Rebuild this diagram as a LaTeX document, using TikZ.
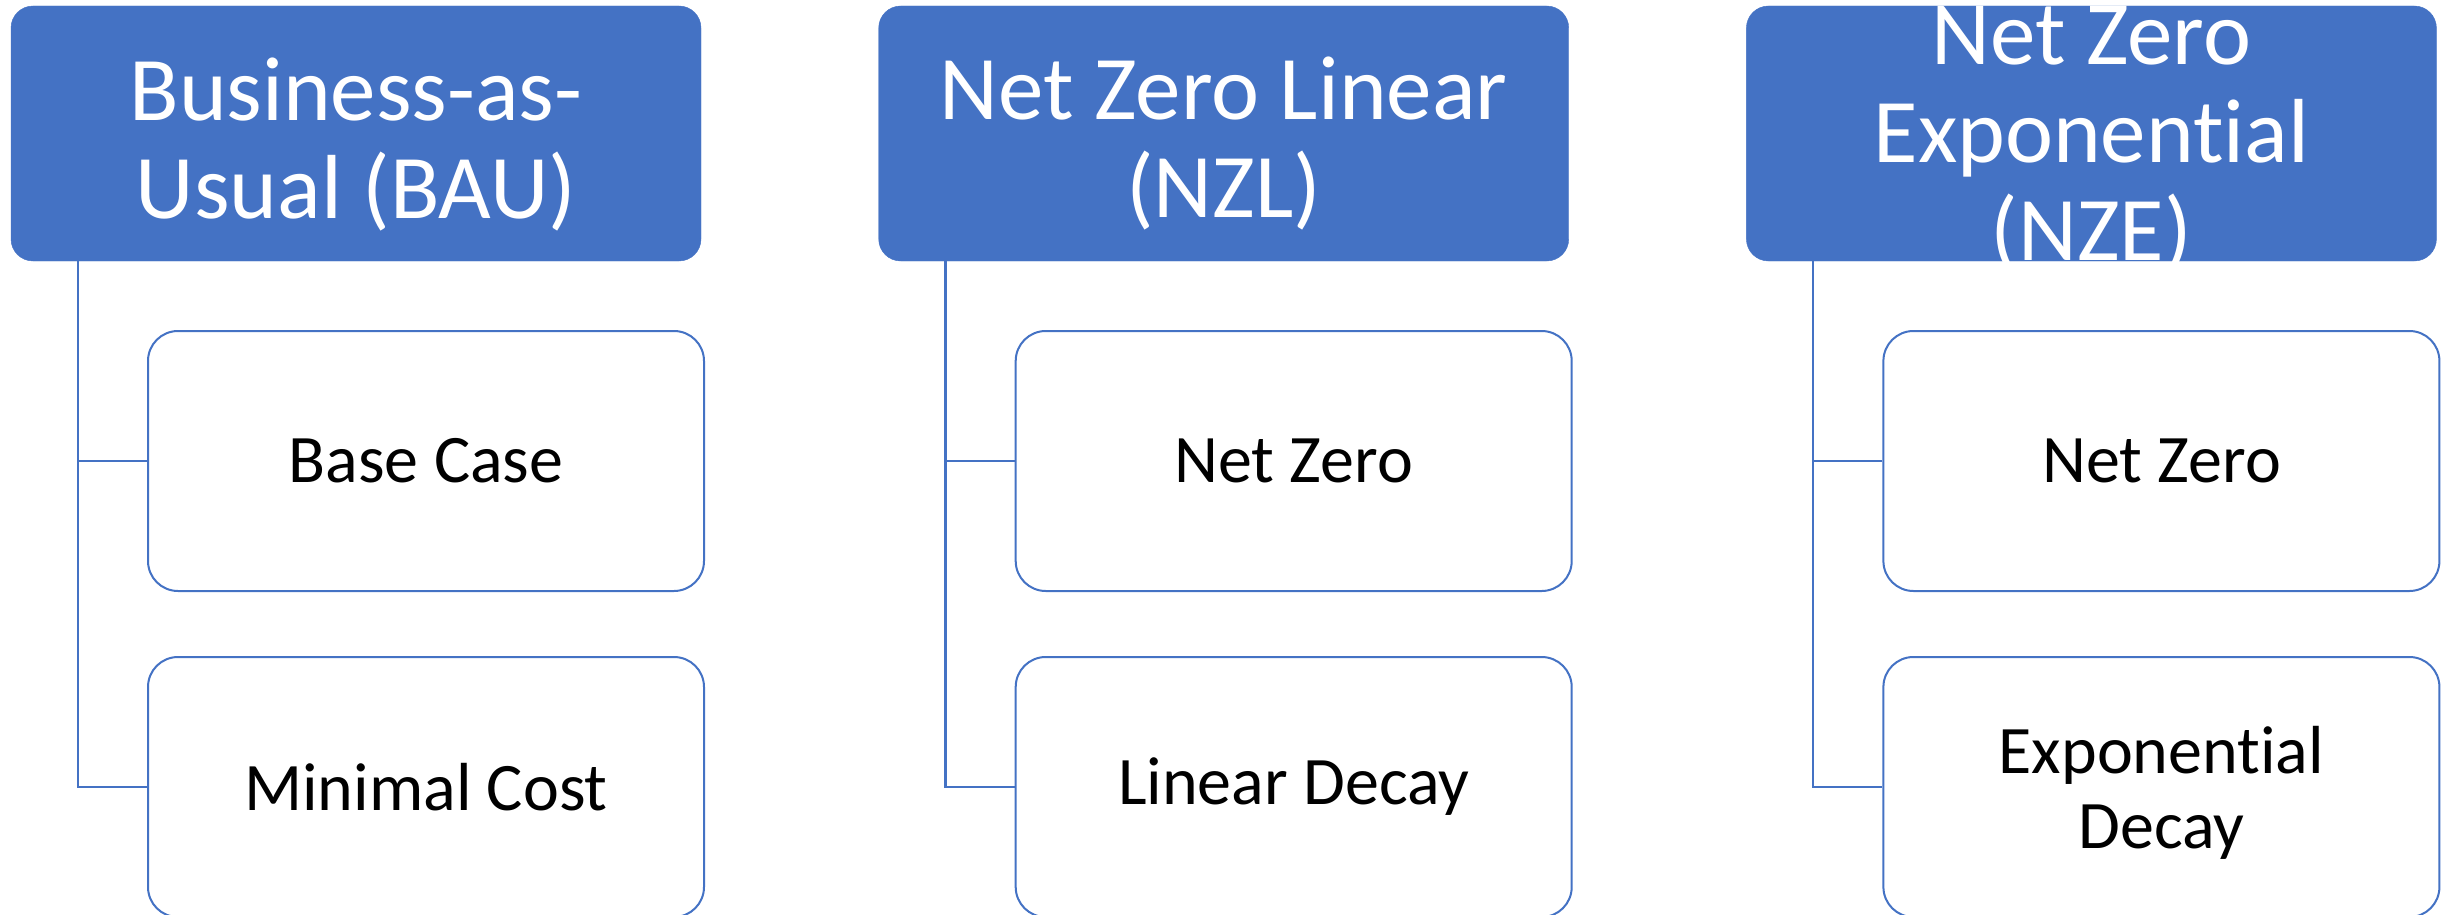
\documentclass[tikz,border=0pt]{standalone}
\usepackage{fontspec}
\setmainfont[Ligatures={NoCommon}]{Carlito}
\definecolor{accent}{HTML}{4472C4}
\begin{document}
\begin{tikzpicture}[x=1pt,y=-1pt,
  header/.style={fill=accent, draw=accent, rounded corners=22pt, minimum width=690pt, minimum height=255pt, inner sep=0pt},
  htext/.style={text=white, align=center, font=\fontsize{91}{98}\selectfont, inner sep=0pt},
  child/.style={fill=white, draw=accent, line width=2pt, rounded corners=30pt, minimum width=556pt, minimum height=260pt, align=center, font=\fontsize{68}{75}\selectfont, inner sep=0pt},
  ctext/.style={align=center, font=\fontsize{68}{75}\selectfont, inner sep=0pt},
  conn/.style={draw=accent, line width=2.5pt}]
\useasboundingbox (0,0) rectangle (2447,915);
% column 1
\node[header] (h1) at (356,133.5) {};
\node[htext] (h1t) at ([yshift=-11pt]h1.center) {Business-as-\\Usual (BAU)};
\node[child] (c1a) at (426,461) {Base Case};
\node[child] (c1b) at (426,787) {Minimal Cost};
% column 2
\node[header] (h2) at (1223.7,133.5) {};
\node[htext] (h2t) at ([yshift=-10pt]h2.center) {Net Zero Linear\\(NZL)};
\node[child] (c2a) at (1293.7,461) {Net Zero};
\node[child] (c2b) at (1293.7,787) {Linear Decay};
% column 3
\node[header] (h3) at (2091.4,133.5) {};
\node[htext] (h3t) at ([yshift=-6pt]h3.center) {Net Zero\\Exponential\\(NZE)};
\node[child] (c3a) at (2161.4,461) {Net Zero};
\node[child] (c3b) at (2161.4,787) {};
\node[ctext] (c3bt) at ([yshift=-6pt]c3b.center) {Exponential\\Decay};
% connectors
\foreach \h/\a/\b in {h1/c1a/c1b, h2/c2a/c2b, h3/c3a/c3b}{
  \coordinate (\h-o) at ([xshift=67pt]\h.south west);
  \draw[conn] (\h-o) |- (\a.west);
  \draw[conn] (\h-o) |- (\b.west);
}
\end{tikzpicture}
\end{document}
